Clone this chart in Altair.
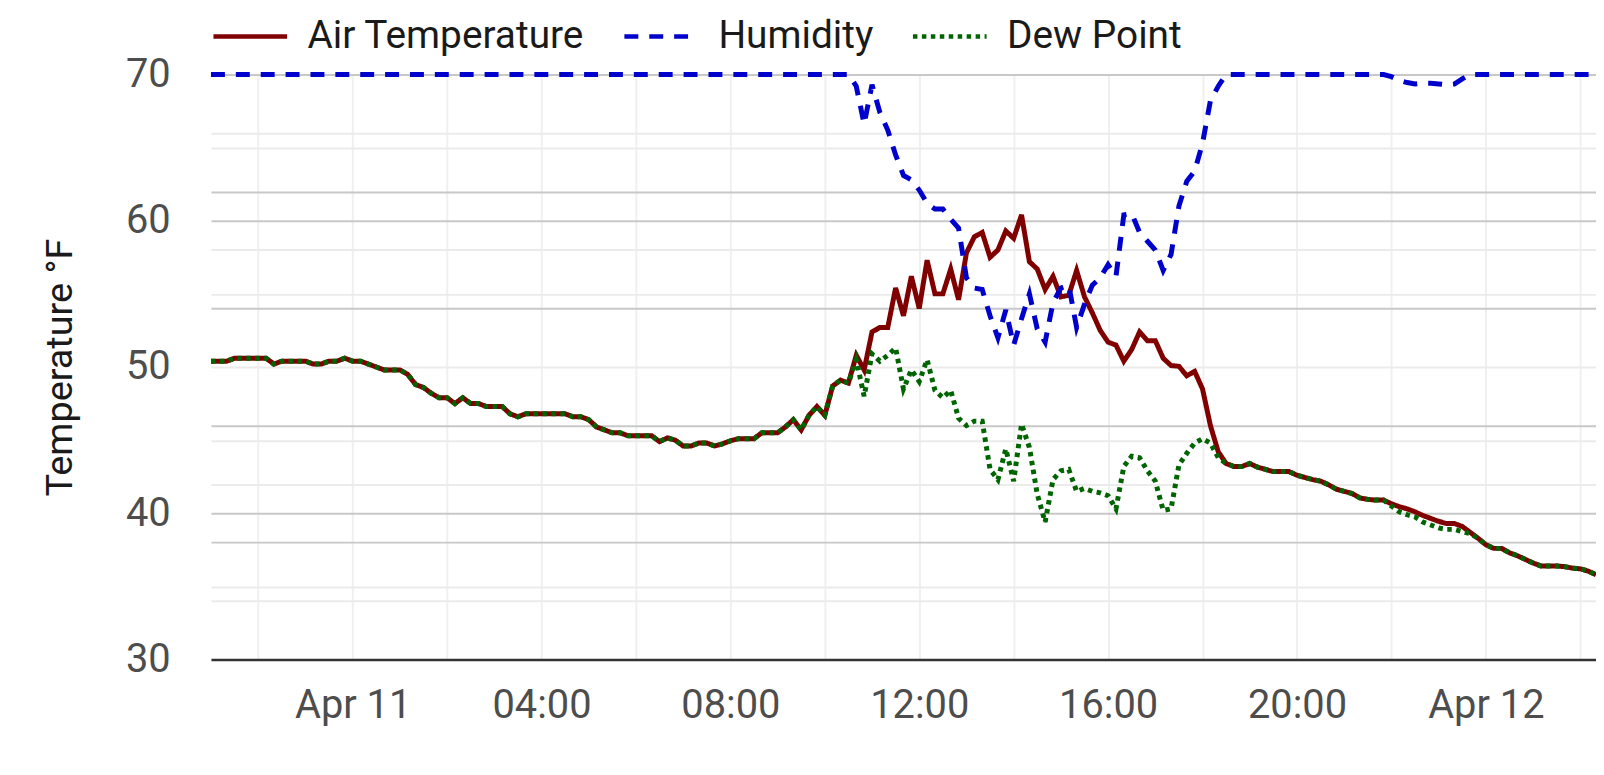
import altair as alt
import pandas as pd

# ---- data (10-minute readings, starting Apr 10 21:00) ----
SERIES = ["Air Temperature", "Humidity", "Dew Point"]
COLORS = ["#800000", "#0000cd", "#006400"]
DASHES = [[1, 0], [14, 11], [4.5, 4.5]]

air_temp = [
    50.4, 50.4, 50.4, 50.6, 50.6, 50.6, 50.6, 50.6, 50.2, 50.4, 50.4, 50.4,
    50.4, 50.2, 50.2, 50.4, 50.4, 50.6, 50.4, 50.4, 50.2, 50.0, 49.8, 49.8,
    49.8, 49.5, 48.8, 48.6, 48.2, 47.9, 47.9, 47.5, 47.9, 47.5, 47.5, 47.3,
    47.3, 47.3, 46.8, 46.6, 46.8, 46.8, 46.8, 46.8, 46.8, 46.8, 46.6, 46.6,
    46.4, 45.9, 45.7, 45.5, 45.5, 45.3, 45.3, 45.3, 45.3, 44.9, 45.15, 45.0,
    44.6, 44.6, 44.8, 44.8, 44.6, 44.75, 44.95, 45.1, 45.1, 45.1, 45.5, 45.5,
    45.5, 45.9, 46.4, 45.7, 46.7, 47.3, 46.7, 48.7, 49.1, 48.9, 50.8, 49.8,
    52.4, 52.7, 52.7, 55.4, 53.5, 56.2, 54.0, 57.3, 55.0, 55.0, 56.7, 54.6,
    57.8, 58.9, 59.2, 57.5, 58.0, 59.3, 58.8, 60.4, 57.2, 56.7, 55.3, 56.2,
    54.8, 54.9, 56.6, 54.8, 53.7, 52.5, 51.7, 51.5, 50.4, 51.2, 52.4, 51.8,
    51.8, 50.6, 50.1, 50.05, 49.4, 49.7, 48.5, 46.0, 44.2, 43.4, 43.2, 43.2,
    43.4, 43.15, 43.0, 42.85, 42.85, 42.85, 42.6, 42.45, 42.3, 42.2, 41.95, 41.65,
    41.5, 41.35, 41.05, 40.95, 40.9, 40.9, 40.65, 40.45, 40.3, 40.1, 39.85, 39.65,
    39.45, 39.3, 39.3, 39.1, 38.7, 38.3, 37.85, 37.6, 37.6, 37.3, 37.1, 36.85,
    36.6, 36.4, 36.4, 36.4, 36.35, 36.25, 36.2, 36.05, 35.8,
]

dew_point = [
    50.4, 50.4, 50.4, 50.6, 50.6, 50.6, 50.6, 50.6, 50.2, 50.4, 50.4, 50.4,
    50.4, 50.2, 50.2, 50.4, 50.4, 50.6, 50.4, 50.4, 50.2, 50.0, 49.8, 49.8,
    49.8, 49.5, 48.8, 48.6, 48.2, 47.9, 47.9, 47.5, 47.9, 47.5, 47.5, 47.3,
    47.3, 47.3, 46.8, 46.6, 46.8, 46.8, 46.8, 46.8, 46.8, 46.8, 46.6, 46.6,
    46.4, 45.9, 45.7, 45.5, 45.5, 45.3, 45.3, 45.3, 45.3, 44.9, 45.15, 45.0,
    44.6, 44.6, 44.8, 44.8, 44.6, 44.75, 44.95, 45.1, 45.1, 45.1, 45.5, 45.5,
    45.5, 45.9, 46.4, 45.7, 46.7, 47.3, 46.7, 48.7, 49.1, 48.9, 50.5, 48.0,
    50.9, 50.4, 50.8, 51.3, 48.5, 49.8, 49.0, 50.5, 48.4, 47.9, 48.4, 46.5,
    46.0, 46.3, 46.3, 43.0, 42.3, 44.4, 42.2, 46.1, 44.5, 41.3, 39.4, 42.3,
    42.9, 43.0, 41.5, 41.7, 41.5, 41.4, 41.2, 40.3, 43.2, 43.9, 43.8, 42.9,
    42.2, 40.2, 40.3, 43.3, 44.1, 44.8, 45.1, 44.8, 43.8, 43.4, 43.2, 43.2,
    43.4, 43.15, 43.0, 42.85, 42.85, 42.85, 42.6, 42.45, 42.3, 42.2, 41.95, 41.65,
    41.5, 41.35, 41.05, 40.95, 40.9, 40.9, 40.5, 40.1, 39.9, 39.75, 39.4, 39.2,
    39.0, 38.9, 38.9, 38.75, 38.6, 38.3, 37.85, 37.6, 37.6, 37.3, 37.1, 36.85,
    36.6, 36.4, 36.4, 36.4, 36.35, 36.25, 36.2, 36.05, 35.8,
]

# humidity as drawn on the temperature axis (capped at the top of the axis)
humidity = [
    70, 70, 70, 70, 70, 70, 70, 70, 70, 70, 70, 70,
    70, 70, 70, 70, 70, 70, 70, 70, 70, 70, 70, 70,
    70, 70, 70, 70, 70, 70, 70, 70, 70, 70, 70, 70,
    70, 70, 70, 70, 70, 70, 70, 70, 70, 70, 70, 70,
    70, 70, 70, 70, 70, 70, 70, 70, 70, 70, 70, 70,
    70, 70, 70, 70, 70, 70, 70, 70, 70, 70, 70, 70,
    70, 70, 70, 70, 70, 70, 70, 70, 70, 70, 69.2, 66.6,
    69.3, 67.4, 66.2, 64.5, 63.1, 62.8, 62.1, 61.2, 60.8, 60.8, 60.1, 59.5,
    56.1, 55.4, 55.3, 53.5, 52.0, 53.9, 51.5, 53.3, 55.0, 52.6, 51.7, 54.4,
    55.4, 55.6, 52.7, 54.3, 55.6, 56.1, 57.0, 56.2, 60.4, 60.5, 59.2, 58.6,
    58.0, 56.6, 57.7, 61.0, 62.7, 63.4, 65.3, 68.2, 69.2, 70, 70, 70,
    70, 70, 70, 70, 70, 70, 70, 70, 70, 70, 70, 70,
    70, 70, 70, 70, 70, 70, 69.85, 69.6, 69.45, 69.35, 69.4, 69.4,
    69.35, 69.3, 69.35, 69.7, 70, 70, 70, 70, 70, 70, 70, 70,
    70, 70, 70, 70, 70, 70, 70, 70, 70,
]

Y_LABELS = [30, 40, 50, 60, 70]
Y_MAJOR_GRID = [30, 38, 40, 46, 54, 60, 62, 70]
Y_MINOR_GRID = [34, 35, 42, 45, 50, 55, 58, 65, 66]
X_GRID_HOURS = [(10, 22), (11, 0), (11, 2), (11, 4), (11, 6), (11, 8), (11, 10),
                (11, 12), (11, 14), (11, 16), (11, 18), (11, 20), (11, 22),
                (12, 0), (12, 2)]

times = pd.date_range("2024-04-10 21:00", periods=len(air_temp), freq="10min")
time_str = list(times.strftime("%Y-%m-%dT%H:%M:%SZ"))

rows = []
for name, vals in zip(SERIES, [air_temp, humidity, dew_point]):
    for t, v in zip(time_str, vals):
        rows.append({"time": t, "series": name, "value": v})
df = pd.DataFrame(rows)

FONT = "Roboto"

x_values = [alt.DateTime(year=2024, month=4, date=d, hours=h, utc=True) for d, h in X_GRID_HOURS]
x_domain = [alt.DateTime(year=2024, month=4, date=10, hours=21, utc=True),
            alt.DateTime(year=2024, month=4, date=12, hours=2, minutes=20, utc=True)]

y_values = sorted(set(Y_MAJOR_GRID + Y_MINOR_GRID + Y_LABELS))
minor_test = "indexof(" + str(Y_MINOR_GRID) + ", datum.value) >= 0"
label_test = "indexof(" + str(Y_LABELS) + ", datum.value) >= 0 ? datum.label : ''"

legend = alt.Legend(
    title=None, orient="none", legendX=0, legendY=-78, direction="horizontal",
    symbolType="stroke", symbolSize=74 * 74, symbolStrokeWidth=4.5,
    labelFont=FONT, labelFontSize=39, labelColor="#1a1a1a", labelOffset=18,
    labelLimit=0, columnPadding=30, padding=0,
)

base = alt.Chart(df).encode(
    x=alt.X(
        "time:T",
        title=None,
        scale=alt.Scale(type="utc", domain=x_domain, nice=False),
        axis=alt.Axis(
            values=x_values,
            labelExpr="utchours(datum.value) == 0 ? utcFormat(datum.value, '%b %d') : "
                      "(utchours(datum.value) % 4 == 0 ? utcFormat(datum.value, '%H:%M') : '')",
            grid=True, gridColor="#f0f0f0", gridWidth=2,
            ticks=False, domain=True, domainColor="#333333", domainWidth=2.5,
            labelFont=FONT, labelFontSize=40, labelColor="#4d4d4d",
            labelPadding=26, labelOverlap=False, labelFlush=False,
        ),
    ),
    y=alt.Y(
        "value:Q",
        title="Temperature °F",
        scale=alt.Scale(domain=[30, 70], nice=False, zero=False),
        axis=alt.Axis(
            values=y_values,
            labelExpr=label_test,
            grid=True,
            gridColor={"condition": {"test": minor_test, "value": "#ebebeb"}, "value": "#c8c8c8"},
            gridWidth=2,
            ticks=False, domain=False,
            labelFont=FONT, labelFontSize=40, labelColor="#4d4d4d",
            labelPadding=41, labelOverlap=False,
            titleFont=FONT, titleFontSize=38, titleFontWeight="normal", titleColor="#1a1a1a",
            titleX=-151, titleY=294, titleBaseline="middle", titleAlign="center",
        ),
    ),
    color=alt.Color("series:N", title=None, scale=alt.Scale(domain=SERIES, range=COLORS), legend=legend),
    strokeDash=alt.StrokeDash("series:N", title=None, scale=alt.Scale(domain=SERIES, range=DASHES), legend=legend),
)

layers = [
    base.transform_filter(alt.datum.series == s).mark_line(strokeWidth=5)
    for s in SERIES
]

chart = alt.layer(*layers).properties(
    width=1392,
    height=588,
    autosize=alt.AutoSizeParams(type="none"),
    padding={"left": 204, "top": 65, "right": 0, "bottom": 70},
    background="white",
).configure_view(stroke=None)

chart.save("out.html", embed_options={"renderer": "svg", "actions": False})
